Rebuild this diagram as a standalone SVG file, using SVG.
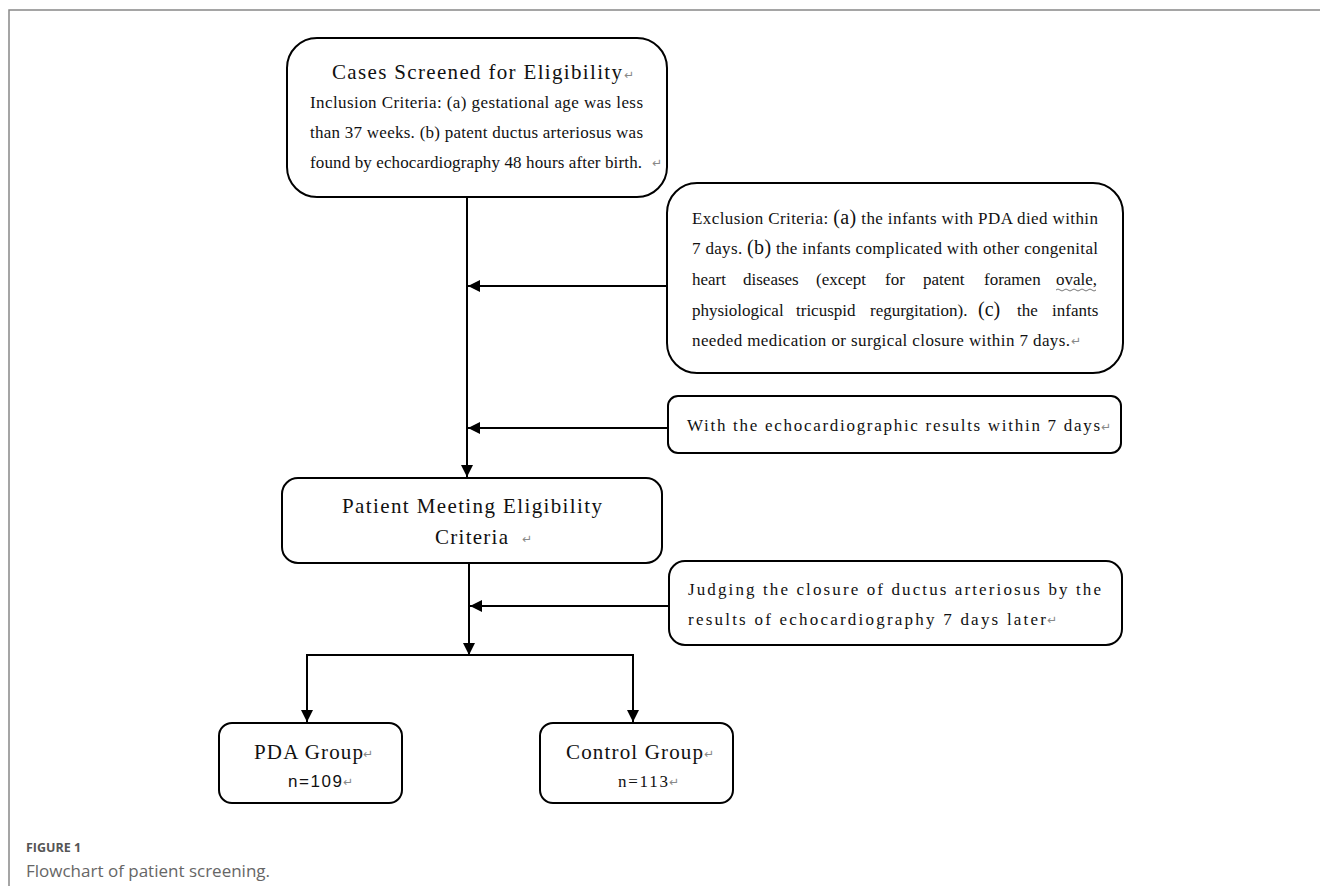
<svg xmlns="http://www.w3.org/2000/svg" width="1320" height="886" viewBox="0 0 1320 886">
<defs>
<style>
.box{fill:#fff;stroke:#000;stroke-width:2}
.ln{fill:none;stroke:#000;stroke-width:2}
.t{font-family:"Liberation Serif","Times New Roman",serif;fill:#111}
.b{font-size:17px}
.h{font-size:21px}
.ret{font-family:"DejaVu Sans",sans-serif;font-size:12px;fill:#888}
.cap{font-family:"Open Sans","Noto Sans",sans-serif}
</style>
<marker id="ah" viewBox="0 0 12 12" refX="12" refY="6" markerWidth="12" markerHeight="12" markerUnits="userSpaceOnUse" orient="auto">
<path d="M0,0 L12,6 L0,12 Z" fill="#000"/>
</marker>
</defs>
<rect width="1320" height="886" fill="#fff"/>
<path d="M9,886 V10 H1320" fill="none" stroke="#888" stroke-width="1.5"/>

<g id="connectors">
<line class="ln" x1="467" y1="197" x2="467" y2="477" marker-end="url(#ah)"/>
<line class="ln" x1="667" y1="286" x2="468" y2="286" marker-end="url(#ah)"/>
<line class="ln" x1="668" y1="428" x2="468" y2="428" marker-end="url(#ah)"/>
<line class="ln" x1="469" y1="563" x2="469" y2="655" marker-end="url(#ah)"/>
<line class="ln" x1="669" y1="606" x2="470" y2="606" marker-end="url(#ah)"/>
<path class="ln" d="M307,722 V655 H633 V722"/>
<line class="ln" x1="307" y1="700" x2="307" y2="722" marker-end="url(#ah)"/>
<line class="ln" x1="633" y1="700" x2="633" y2="722" marker-end="url(#ah)"/>
</g>

<g id="screened">
<rect class="box" x="287" y="38" width="380" height="159" rx="30"/>
<text class="t h" x="332" y="79" textLength="290" lengthAdjust="spacing">Cases Screened for Eligibility</text>
<text class="ret" x="624" y="79">↵</text>
<text class="t b" x="310" y="108" textLength="333" lengthAdjust="spacing">Inclusion Criteria: (a) gestational age was less</text>
<text class="t b" x="310" y="138" textLength="333" lengthAdjust="spacing">than 37 weeks. (b) patent ductus arteriosus was</text>
<text class="t b" x="310" y="168" textLength="332" lengthAdjust="spacing">found by echocardiography 48 hours after birth.</text>
<text class="ret" x="652" y="167" font-size="10">↵</text>
</g>

<g id="exclusion">
<rect class="box" x="667" y="183" width="456" height="190" rx="30"/>
<text class="t b" x="692" y="224" textLength="406" lengthAdjust="spacing">Exclusion Criteria: <tspan font-size="20">(a)</tspan> the infants with PDA died within</text>
<text class="t b" x="692" y="254" textLength="406" lengthAdjust="spacing">7 days. <tspan font-size="20">(b)</tspan> the infants complicated with other congenital</text>
<text class="t b" y="285"><tspan x="692">heart</tspan><tspan x="743">diseases</tspan><tspan x="816">(except</tspan><tspan x="885">for</tspan><tspan x="923">patent</tspan><tspan x="984">foramen</tspan><tspan x="1056">ovale,</tspan></text>
<path d="M1056,290 q2,-2 4,0 t4,0 t4,0 t4,0 t4,0 t4,0 t4,0 t4,0 t4,0 t4,0" fill="none" stroke="#777" stroke-width="1"/>
<text class="t b" y="316"><tspan x="692">physiological</tspan><tspan x="796">tricuspid</tspan><tspan x="870">regurgitation).</tspan><tspan x="978" font-size="20">(c)</tspan><tspan x="1017">the</tspan><tspan x="1052">infants</tspan></text>
<text class="t b" x="692" y="346" textLength="378" lengthAdjust="spacing">needed medication or surgical closure within 7 days.</text>
<text class="ret" x="1071" y="345">↵</text>
</g>

<g id="echo7">
<rect class="box" x="668" y="396" width="453" height="57" rx="10"/>
<text class="t b" x="687" y="431" textLength="413" lengthAdjust="spacing">With the echocardiographic results within 7 days</text>
<text class="ret" x="1101" y="431">↵</text>
</g>

<g id="meeting">
<rect class="box" x="282" y="478" width="380" height="85" rx="16"/>
<text class="t h" x="342" y="513" textLength="260" lengthAdjust="spacing">Patient Meeting Eligibility</text>
<text class="t h" x="435" y="544" textLength="73" lengthAdjust="spacing">Criteria</text>
<text class="ret" x="522" y="543">↵</text>
</g>

<g id="judging">
<rect class="box" x="669" y="561" width="453" height="84" rx="16"/>
<text class="t b" x="688" y="595" textLength="413" lengthAdjust="spacing">Judging the closure of ductus arteriosus by the</text>
<text class="t b" x="688" y="625" textLength="358" lengthAdjust="spacing">results of echocardiography 7 days later</text>
<text class="ret" x="1047" y="624">↵</text>
</g>

<g id="pda">
<rect class="box" x="219" y="723" width="183" height="80" rx="13"/>
<text class="t h" x="254" y="759" textLength="109" lengthAdjust="spacing">PDA Group</text>
<text class="ret" x="363" y="758">↵</text>
<text x="288" y="787" font-family="'Liberation Sans',Arial,sans-serif" font-size="17" fill="#111" textLength="54" lengthAdjust="spacing">n=109</text>
<text class="ret" x="343" y="786">↵</text>
</g>

<g id="control">
<rect class="box" x="540" y="723" width="193" height="80" rx="13"/>
<text class="t h" x="566" y="759" textLength="137" lengthAdjust="spacing">Control Group</text>
<text class="ret" x="704" y="758">↵</text>
<text class="t b" x="618" y="787" textLength="50" lengthAdjust="spacing">n=113</text>
<text class="ret" x="669" y="786">↵</text>
</g>

<g id="caption">
<text class="cap" x="26" y="852" font-size="12.5" font-weight="bold" fill="#555">FIGURE 1</text>
<text class="cap" x="26" y="877" font-size="17" fill="#666">Flowchart of patient screening.</text>
</g>
</svg>
